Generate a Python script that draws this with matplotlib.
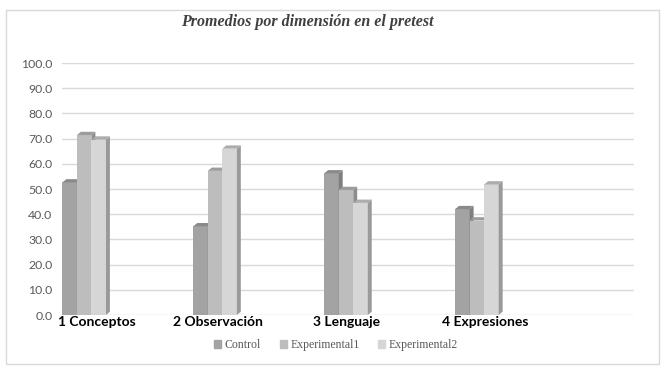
"""Promedios por dimensión en el pretest - barras agrupadas con efecto 3D."""

import matplotlib
matplotlib.use("Agg")
import matplotlib.pyplot as plt
from matplotlib.patches import Polygon, Rectangle


categories = ["1 Conceptos", "2 Observación", "3 Lenguaje", "4 Expresiones"]
series_names = ["Control", "Experimental1", "Experimental2"]
control = [52.6, 35.2, 56.2, 42.0]
experimental1 = [71.4, 57.2, 49.6, 37.5]
experimental2 = [69.6, 66.0, 44.5, 51.8]
y_ticks = [0, 10, 20, 30, 40, 50, 60, 70, 80, 90, 100]

# layout (category units, 1 unit = category spacing)
BAR_W = 0.111
DX = 0.03      # depth offset in x
DY = 1.3       # depth offset in y (value units)
LABEL_POS = [0.265, 1.19, 2.17, 3.23]

FRONT = ["#a3a3a3", "#bdbdbd", "#d6d6d6"]
SIDE = ["#7f7f7f", "#8c8c8c", "#9a9a9a"]
TOP = ["#8a8a8a", "#9c9c9c", "#acacac"]


def draw_bar(ax, x0, value, k, z):
    x1 = x0 + BAR_W
    ax.bar(x0, value, width=BAR_W, align="edge", color=FRONT[k],
           edgecolor="none", zorder=z)
    side = [(x1, 0), (x1 + DX, DY), (x1 + DX, value + DY), (x1, value)]
    top = [(x0, value), (x0 + DX, value + DY), (x1 + DX, value + DY),
           (x1, value)]
    ax.add_patch(Polygon(side, closed=True, facecolor=SIDE[k],
                         edgecolor="none", zorder=z))
    ax.add_patch(Polygon(top, closed=True, facecolor=TOP[k],
                         edgecolor="none", zorder=z))


def main():
    fig = plt.figure(figsize=(6.63, 3.74), dpi=100)
    ax = fig.add_axes([62 / 663, 1 - 315 / 374, 572 / 663, 252 / 374])

    values = [control, experimental1, experimental2]
    z = 3
    for i in range(len(categories)):
        for k, vals in enumerate(values):
            draw_bar(ax, i + k * BAR_W, vals[i], k, z)
            z += 1

    ax.set_xlim(-0.003, 572 / 131)
    ax.set_ylim(0, 100)
    ax.set_yticks(y_ticks)
    ax.set_yticklabels([f"{t:.1f}" for t in y_ticks], fontsize=8.8,
                       color="#595959", family="Lato")
    ax.tick_params(axis="y", length=0, pad=7)
    ax.set_xticks(LABEL_POS)
    ax.set_xticklabels(categories, fontsize=10, fontweight="bold",
                       family="Lato", color="black")
    ax.tick_params(axis="x", length=0, pad=1)
    ax.yaxis.grid(True, color="#d9d9d9", linewidth=1.0, zorder=0)
    ax.set_axisbelow(True)
    for sp in ax.spines.values():
        sp.set_visible(False)

    # legend
    handles = [Rectangle((0, 0), 1, 1, color=c) for c in FRONT]
    fig.legend(handles, series_names, loc="center",
               bbox_to_anchor=(336 / 663, 1 - 345 / 374), ncol=3,
               frameon=False, prop={"family": "Liberation Serif", "size": 8.5},
               labelcolor="#595959", handlelength=0.6, handleheight=0.6,
               handletextpad=0.3, columnspacing=1.6)

    fig.text(307 / 663, 1 - 22 / 374, "Promedios por dimensión en el pretest",
             ha="center", va="center", fontsize=11.5, fontweight="bold",
             style="italic", family="Liberation Serif", color="#404040")

    fig.patches.append(Rectangle((6 / 663, 1 - 364 / 374), 653 / 663,
                                 354 / 374, transform=fig.transFigure,
                                 fill=False, edgecolor="#d9d9d9",
                                 linewidth=1.0))

    fig.savefig("out.png", dpi=100)
    plt.close(fig)


if __name__ == "__main__":
    main()
